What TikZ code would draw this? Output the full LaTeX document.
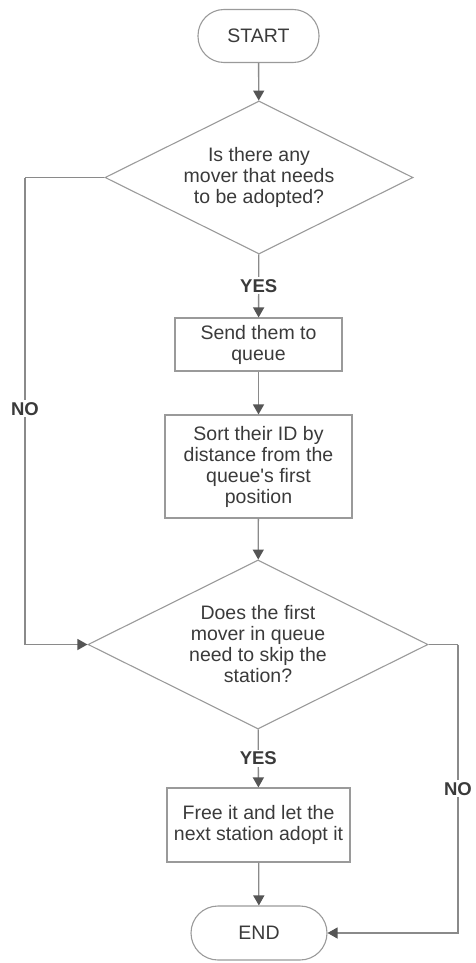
\documentclass[tikz,border=0pt]{standalone}
\usepackage{fontspec}
\setmainfont{Liberation Sans}[Ligatures=TeXOff]
\usetikzlibrary{shapes.geometric,arrows.meta}
\definecolor{txt}{HTML}{3A3A3A}
\definecolor{edge}{HTML}{8A8A8A}
\definecolor{tip}{HTML}{555555}
\definecolor{border}{HTML}{9A9A9A}
\begin{document}
\begin{tikzpicture}[x=1pt,y=-1pt,
  every node/.style={font=\fontsize{19.5}{21}\selectfont, text=txt, inner sep=0pt},
  terminal/.style={draw=border, line width=1.1pt, rounded corners=26pt, minimum height=53pt},
  process/.style={draw=border, line width=1.1pt, align=center},
  decision/.style={draw=border, line width=1.1pt, diamond, aspect=2, align=center},
  flow/.style={draw=edge, line width=1.3pt, -{Triangle[length=10pt,width=11pt,color=tip]}},
  plain/.style={draw=edge, line width=1.3pt},
  tag/.style={font=\bfseries\fontsize{18.5}{21}\selectfont, text=txt, fill=white, inner sep=2pt}
]
\useasboundingbox (0,0) rectangle (475,963);

% shapes
\node[terminal, minimum width=121pt] (start) at (258.5,36) {START};
\node[decision, minimum width=308pt, minimum height=153pt] (q1) at (259,177.5)
  {Is there any\\mover that needs\\to be adopted?};
\node[process, minimum width=167pt, minimum height=53pt] (send) at (258.5,344.5)
  {Send them to\\queue};
\node[process, minimum width=187pt, minimum height=103pt] (sort) at (258.5,466.5)
  {Sort their ID by\\distance from the\\queue's first\\position};
\node[decision, minimum width=340pt, minimum height=169pt] (q2) at (258,644.5)
  {Does the first\\mover in queue\\need to skip the\\station?};
\node[process, minimum width=183pt, minimum height=74pt] (free) at (258.5,825)
  {Free it and let the\\next station adopt it};
\node[terminal, minimum width=136pt, minimum height=54pt, rounded corners=27pt] (end) at (259,933) {END};

% bends of the NO branches
\coordinate (l1) at (25,177.5);
\coordinate (l2) at (25,644.5);
\coordinate (r1) at (458,644.5);
\coordinate (r2) at (458,933);

% connectors
\draw[flow] (start) -- (q1);
\draw[flow] (q1) -- node[tag, pos=0.5] {YES} (send);
\draw[flow] (send) -- (sort);
\draw[flow] (sort) -- (q2);
\draw[flow] (q2) -- node[tag, pos=0.5] {YES} (free);
\draw[flow] (free) -- (end);
\draw[plain] (q1.west) -- (l1);
\draw[flow] (l1) -- node[tag, pos=0.495] {NO} (l2) -- (q2.west);
\draw[plain] (q2.east) -- (r1);
\draw[flow] (r1) -- node[tag, pos=0.5] {NO} (r2) -- (end.east);
\end{tikzpicture}
\end{document}
